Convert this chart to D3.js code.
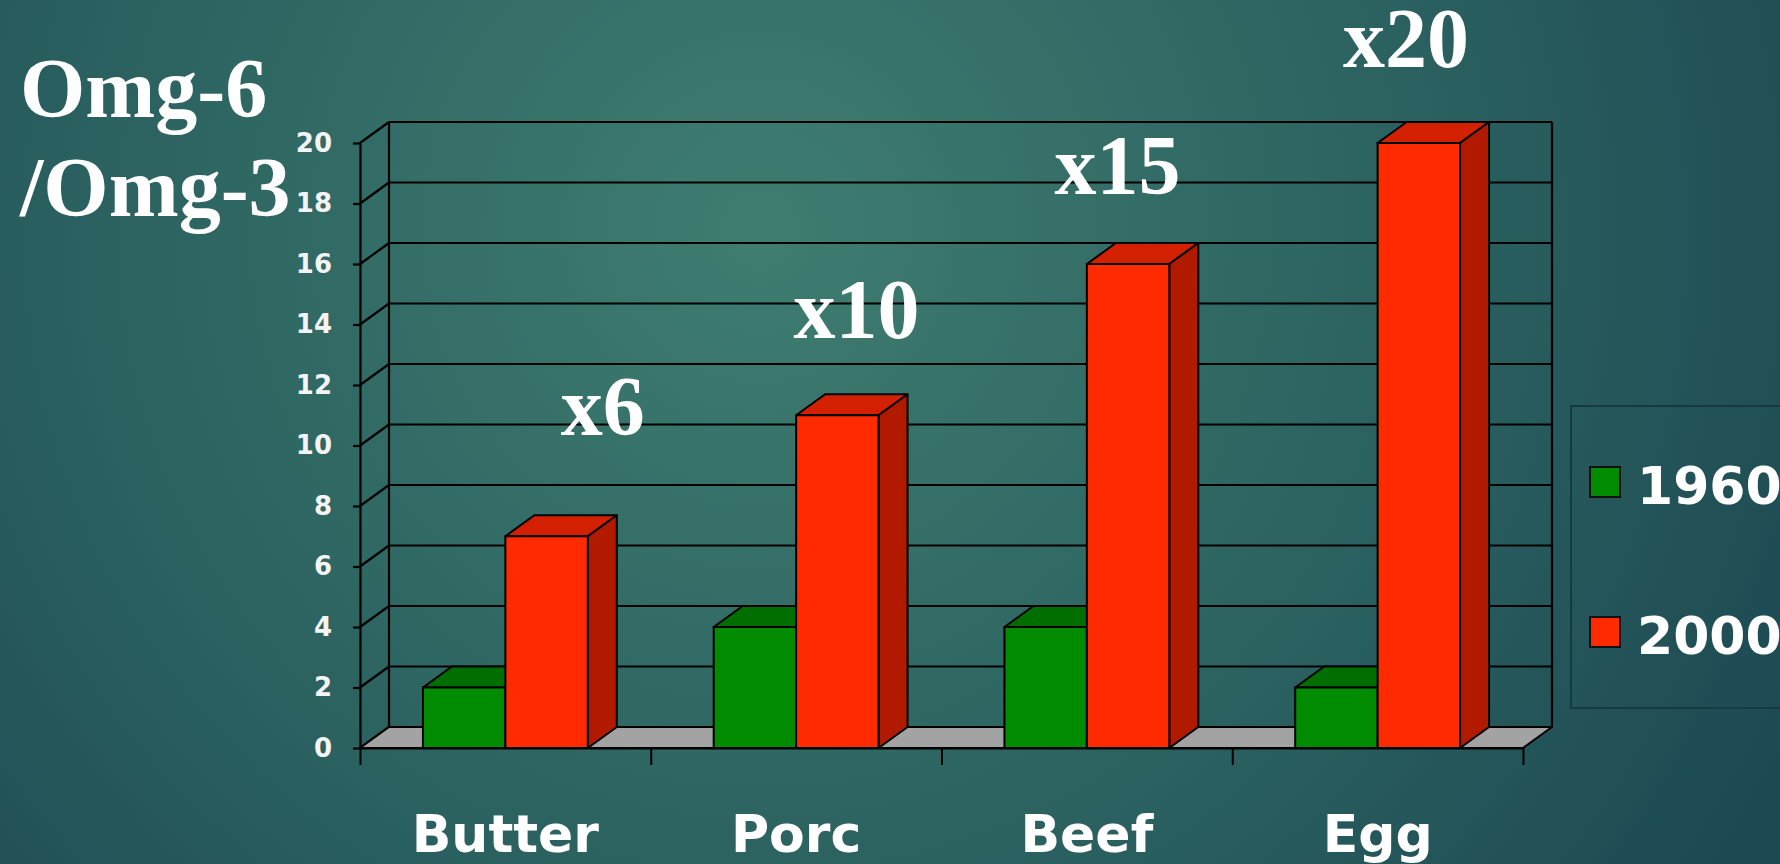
<!DOCTYPE html>
<html>
<head>
<meta charset="utf-8">
<script src="https://cdn.jsdelivr.net/npm/d3@7"></script>
<style>
  html, body { margin: 0; padding: 0; overflow: hidden; }
  body { width: 1780px; height: 864px; }
</style>
</head>
<body>
<div id="container"></div>
<script>
const categories = ['Butter', 'Porc', 'Beef', 'Egg'];
const seriesNames = ['1960', '2000'];
const values1960 = [2, 4, 4, 2];
const values2000 = [7, 11, 16, 20];
const yTicks = [0, 2, 4, 6, 8, 10, 12, 14, 16, 18, 20];
const ratioLabels = ['x6', 'x10', 'x15', 'x20'];
// where the ratio labels sit: fraction across the category band, and level on value axis
const ratioBandPos = [0.835, 0.708, 0.605, 0.598];
const ratioLevel = [10.35, 13.55, 18.3, 22.5];
const titleLines = ['Omg-6', '/Omg-3'];

const width = 1780, height = 864;
const colors = {
  '1960': { front: '#008b00', top: '#006e00', side: '#005a00' },
  '2000': { front: '#ff2a00', top: '#d22000', side: '#b21a00' }
};
const depth = { dx: 29, dy: -21 };

const svg = d3.select('#container')
  .append('svg')
  .attr('width', width)
  .attr('height', height);

// background
const defs = svg.append('defs');
const bg = defs.append('radialGradient')
  .attr('id', 'bg')
  .attr('gradientUnits', 'userSpaceOnUse')
  .attr('cx', 760).attr('cy', 230).attr('r', 1150);
bg.append('stop').attr('offset', 0).attr('stop-color', '#3f7d70');
bg.append('stop').attr('offset', 0.6).attr('stop-color', '#2a605f');
bg.append('stop').attr('offset', 1).attr('stop-color', '#1d4953');
svg.append('rect').attr('width', width).attr('height', height).attr('fill', 'url(#bg)');

const x0 = 360, x1 = 1523;
const y = d3.scaleLinear().domain([0, 20]).range([748, 143]);
const x = d3.scaleBand().domain(categories).range([x0, x1]).padding(0);
const bw = x.bandwidth();
const xs = d3.scaleBand().domain(seriesNames).range([bw * 0.2165, bw * 0.7835]).padding(0);

const g = svg.append('g');

// back wall grid lines
g.selectAll('line.grid')
  .data(yTicks)
  .join('line')
  .attr('class', 'grid')
  .attr('x1', x0 + depth.dx).attr('x2', x1 + depth.dx)
  .attr('y1', d => y(d) + depth.dy).attr('y2', d => y(d) + depth.dy)
  .attr('stroke', '#000').attr('stroke-width', 2.2);

// left side wall diagonals
g.selectAll('line.diag')
  .data(yTicks)
  .join('line')
  .attr('class', 'diag')
  .attr('x1', x0).attr('x2', x0 + depth.dx)
  .attr('y1', d => y(d)).attr('y2', d => y(d) + depth.dy)
  .attr('stroke', '#000').attr('stroke-width', 2.2);

// back wall verticals
[x0 + depth.dx, x1 + depth.dx].forEach(xx => {
  g.append('line')
    .attr('x1', xx).attr('x2', xx)
    .attr('y1', y(20) + depth.dy).attr('y2', y(0) + depth.dy)
    .attr('stroke', '#000').attr('stroke-width', 2.2);
});

// floor
g.append('path')
  .attr('d', `M${x0},${y(0)}L${x0 + depth.dx},${y(0) + depth.dy}L${x1 + depth.dx},${y(0) + depth.dy}L${x1},${y(0)}Z`)
  .attr('fill', '#a3a3a3')
  .attr('stroke', '#000').attr('stroke-width', 2)
  .attr('stroke-linejoin', 'round');

// y axis
const yAxis = g.append('g')
  .attr('transform', `translate(${x0},0)`)
  .call(d3.axisLeft(y).tickValues(yTicks).tickSize(7).tickSizeOuter(0).tickPadding(21));
yAxis.select('.domain').attr('stroke', '#000').attr('stroke-width', 2.2);
yAxis.selectAll('.tick line').attr('stroke', '#000').attr('stroke-width', 2.2);
yAxis.selectAll('.tick text')
  .attr('fill', '#f4f4f4')
  .style('font-family', '"DejaVu Sans", Verdana, sans-serif')
  .style('font-weight', 'bold')
  .style('font-size', '26px');

// x axis ticks on band edges
const edge = d3.scaleLinear().domain([0, categories.length]).range([x0, x1]);
const xAxis = g.append('g')
  .attr('transform', `translate(0,${y(0)})`)
  .call(d3.axisBottom(edge).tickValues(d3.range(categories.length + 1)).tickFormat('').tickSize(17).tickSizeOuter(0));
xAxis.select('.domain').attr('stroke', '#000').attr('stroke-width', 2.2);
xAxis.selectAll('.tick line').attr('stroke', '#000').attr('stroke-width', 2);

// category labels
g.selectAll('text.cat')
  .data(categories)
  .join('text')
  .attr('class', 'cat')
  .attr('x', d => x(d) + bw / 2)
  .attr('y', y(0) + 104)
  .attr('text-anchor', 'middle')
  .attr('fill', '#fff')
  .style('font-family', '"DejaVu Sans", Verdana, sans-serif')
  .style('font-weight', 'bold')
  .style('font-size', '52px')
  .text(d => d);

// 3d bars
function bar(sel, cx, w, v, c) {
  const left = cx, right = cx + w, top = y(v), base = y(0);
  const { dx, dy } = depth;
  sel.append('path')
    .attr('d', `M${left},${top}L${left + dx},${top + dy}L${right + dx},${top + dy}L${right},${top}Z`)
    .attr('fill', c.top).attr('stroke', '#000').attr('stroke-width', 2).attr('stroke-linejoin', 'round');
  sel.append('path')
    .attr('d', `M${right},${top}L${right + dx},${top + dy}L${right + dx},${base + dy}L${right},${base}Z`)
    .attr('fill', c.side).attr('stroke', '#000').attr('stroke-width', 2).attr('stroke-linejoin', 'round');
  sel.append('rect')
    .attr('x', left).attr('y', top)
    .attr('width', w).attr('height', base - top)
    .attr('fill', c.front).attr('stroke', '#000').attr('stroke-width', 2);
}

const bars = g.append('g');
categories.forEach((cat, i) => {
  const vals = { '1960': values1960[i], '2000': values2000[i] };
  seriesNames.forEach(s => {
    bar(bars.append('g'), x(cat) + xs(s), xs.bandwidth(), vals[s], colors[s]);
  });
});

// ratio labels
g.selectAll('text.ratio')
  .data(ratioLabels)
  .join('text')
  .attr('class', 'ratio')
  .attr('x', (d, i) => x(categories[i]) + bw * ratioBandPos[i])
  .attr('y', (d, i) => y(ratioLevel[i]))
  .attr('text-anchor', 'middle')
  .attr('fill', '#fff')
  .style('font-family', '"Liberation Serif", "Times New Roman", serif')
  .style('font-weight', 'bold')
  .style('font-size', '84px')
  .text(d => d);

// title
svg.selectAll('text.title')
  .data(titleLines)
  .join('text')
  .attr('class', 'title')
  .attr('x', 20)
  .attr('y', (d, i) => 117 + i * 99)
  .attr('fill', '#fff')
  .style('font-family', '"Liberation Serif", "Times New Roman", serif')
  .style('font-weight', 'bold')
  .style('font-size', '84px')
  .text(d => d);

// legend
const legend = svg.append('g').attr('transform', 'translate(1571,406)');
legend.append('rect')
  .attr('width', 260).attr('height', 302)
  .attr('fill', 'none')
  .attr('stroke', '#163a3e').attr('stroke-width', 2);
const li = legend.selectAll('g.item')
  .data(seriesNames)
  .join('g')
  .attr('class', 'item')
  .attr('transform', (d, i) => `translate(0,${76 + i * 150})`);
li.append('rect')
  .attr('x', 19).attr('y', -15)
  .attr('width', 30).attr('height', 30)
  .attr('fill', d => colors[d].front)
  .attr('stroke', '#111').attr('stroke-width', 2);
li.append('text')
  .attr('x', 66).attr('y', 22)
  .attr('fill', '#fff')
  .style('font-family', '"DejaVu Sans", Verdana, sans-serif')
  .style('font-weight', 'bold')
  .style('font-size', '52px')
  .text(d => d);
</script>
</body>
</html>
